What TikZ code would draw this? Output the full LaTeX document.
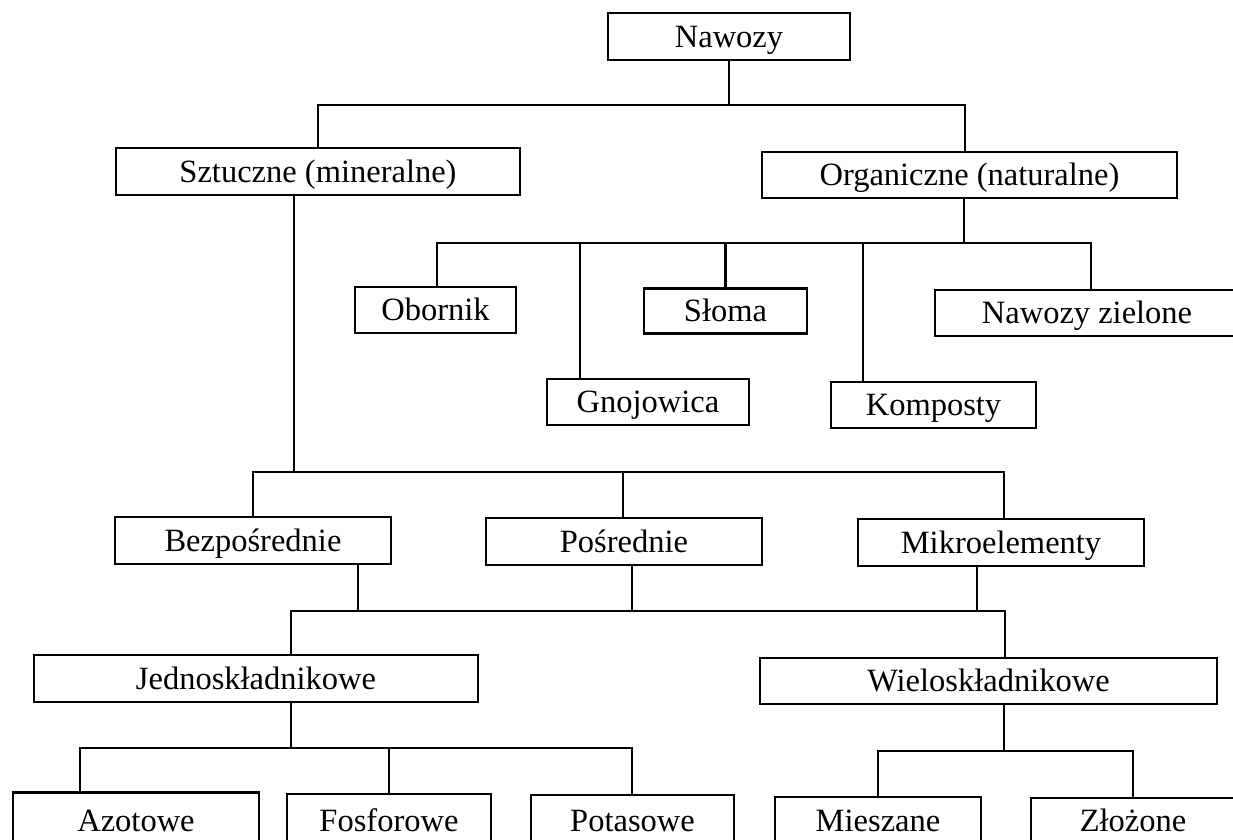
\documentclass[tikz,border=0pt]{standalone}
\usepackage{fontspec}
\setmainfont{Liberation Serif}
\begin{document}
\begin{tikzpicture}[x=1pt,y=-1pt,
  box/.style={draw, line width=2.8pt, inner sep=0pt, text height=21.5pt, text depth=0pt,
    font=\fontsize{32.5}{39}\selectfont},
  cutbox/.style={box, anchor=base, text depth=30pt},
  link/.style={line width=2.4pt, line cap=rect}]
\useasboundingbox (0,0) rectangle (1233,839);
\clip (0,0) rectangle (1233,839);
\fill[white] (0,0) rectangle (1233,839);

\node[box, minimum width=242pt, minimum height=47pt] (nawozy) at (729,36.5) {Nawozy};
\node[box, minimum width=404pt, minimum height=47pt] (sztuczne) at (318,171.5) {Sztuczne (mineralne)};
\node[box, minimum width=415pt, minimum height=46pt] (organiczne) at (969.5,175) {Organiczne (naturalne)};
\node[box, minimum width=161pt, minimum height=46pt] (obornik) at (435.5,310) {Obornik};
\node[box, minimum width=163pt, minimum height=45pt] (sloma) at (725.5,311) {Słoma};
\node[box, minimum width=304pt, minimum height=46pt] (zielone) at (1087,313) {Nawozy zielone};
\node[box, minimum width=202pt, minimum height=46pt] (gnojowica) at (648,402) {Gnojowica};
\node[box, minimum width=205pt, minimum height=46pt] (komposty) at (933.5,405) {Komposty};
\node[box, minimum width=276pt, minimum height=47pt] (bezp) at (253,540.5) {Bezpośrednie};
\node[box, minimum width=276pt, minimum height=47pt] (posr) at (624,541.5) {Pośrednie};
\node[box, minimum width=286pt, minimum height=47pt] (mikro) at (1001,542.5) {Mikroelementy};
\node[box, minimum width=444pt, minimum height=47pt] (jedno) at (256,678.5) {Jednoskładnikowe};
\node[box, minimum width=457pt, minimum height=46pt] (wielo) at (988.5,681) {Wieloskładnikowe};
\node[cutbox, minimum width=246pt, text height=38.5pt] (azot) at (136,831) {Azotowe};
\node[cutbox, minimum width=204pt, text height=37pt] (fosfor) at (389,831) {Fosforowe};
\node[cutbox, minimum width=203pt, text height=36pt] (potas) at (632.5,831) {Potasowe};
\node[cutbox, minimum width=206pt, text height=34pt] (miesz) at (878,831) {Mieszane};
\node[cutbox, minimum width=204pt, text height=33pt] (zloz) at (1133,831) {Złożone};

\coordinate (j1) at (729,105);
\coordinate (j2) at (964,243);
\coordinate (j3) at (294,472);
\coordinate (j4) at (291,611);
\coordinate (j5) at (291,748);
\coordinate (j6) at (1004,751);

\draw[link] (nawozy.south) -- (j1);
\draw[link] (sztuczne.north) |- (j1) -| ([xshift=-4.5pt]organiczne.north);

\draw[link] ([xshift=-5.5pt]organiczne.south) -- (j2);
\draw[link] ([xshift=1.5pt]obornik.north) |- (j2) -| ([xshift=4pt]zielone.north);
\draw[link] ([xshift=-68pt]gnojowica.north) |- (j2);
\draw[link] (sloma.north) |- (j2);
\draw[link] ([xshift=-70.5pt]komposty.north) |- (j2);

\draw[link] ([xshift=-24pt]sztuczne.south) -- (j3);
\draw[link] (bezp.north) |- (j3) -| ([xshift=3pt]mikro.north);
\draw[link] ([xshift=-1pt]posr.north) |- (j3);

\draw[link] ([xshift=105pt]bezp.south) |- (j4);
\draw[link] ([xshift=8pt]posr.south) |- (j4);
\draw[link] ([xshift=-24pt]mikro.south) |- (j4);
\draw[link] ([xshift=35pt]jedno.north) |- (j4) -| ([xshift=16.5pt]wielo.north);

\draw[link] ([xshift=35pt]jedno.south) -- (j5);
\draw[link] ([xshift=-56pt]azot.north) |- (j5) -| ([xshift=-0.5pt]potas.north);
\draw[link] (fosfor.north) |- (j5);

\draw[link] ([xshift=15.5pt]wielo.south) -- (j6);
\draw[link] (miesz.north) |- (j6) -| (zloz.north);
\end{tikzpicture}
\end{document}
